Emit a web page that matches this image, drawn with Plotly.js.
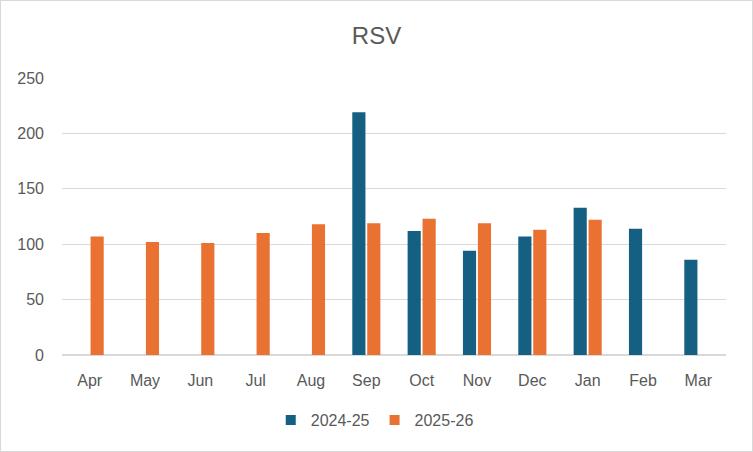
<!DOCTYPE html>
<html>
<head>
<meta charset="utf-8">
<script src="https://cdn.plot.ly/plotly-3.0.1.min.js"></script>
<style>
html,body{margin:0;padding:0;background:#fff;}
#wrap{position:relative;width:753px;height:452px;}
#chart{width:753px;height:452px;}
#frame{position:absolute;left:0;top:0;width:751px;height:450px;border:1px solid #d9d9d9;pointer-events:none;}
</style>
</head>
<body>
<div id="wrap"><div id="chart"></div><div id="frame"></div></div>
<script>
const months = ["Apr","May","Jun","Jul","Aug","Sep","Oct","Nov","Dec","Jan","Feb","Mar"];
const seriesNames = ["2024-25","2025-26"];
const series2425 = [null,null,null,null,null,219,112,94,107,133,114,86];
const series2526 = [107,102,101,110,118,119,123,119,113,122,null,null];
const colors = ["#156082","#E97132"];
const yTicks = [0,50,100,150,200,250];

const traces = [
  {type:"bar", name:seriesNames[0], x:months, y:series2425, marker:{color:colors[0]}, showlegend:false},
  {type:"bar", name:seriesNames[1], x:months, y:series2526, marker:{color:colors[1]}, showlegend:false},
  {type:"scatter", mode:"markers", name:seriesNames[0], x:[months[0]], y:[null], marker:{symbol:"square", size:10, color:colors[0]}, showlegend:true},
  {type:"scatter", mode:"markers", name:seriesNames[1], x:[months[0]], y:[null], marker:{symbol:"square", size:10, color:colors[1]}, showlegend:true}
];

const layout = {
  width:753, height:452,
  paper_bgcolor:"#ffffff", plot_bgcolor:"#ffffff",
  font:{family:"'Liberation Sans', Arial, sans-serif", color:"#595959", size:16},
  title:{text:"RSV", font:{size:24, color:"#595959"}, x:0.5, xanchor:"center", y:0.922, yanchor:"middle"},
  margin:{l:62, r:27, t:78, b:97},
  barmode:"group", bargap:0.46, bargroupgap:0.12,
  xaxis:{type:"category", categoryarray:months, range:[-0.5, months.length - 0.5], autorange:false, showgrid:false, showline:false, zeroline:false, ticks:"", ticklabelstandoff:14, tickfont:{size:16, color:"#595959"}},
  yaxis:{range:[0,250], autorange:false, tickvals:yTicks, showgrid:true, gridcolor:"#d9d9d9", gridwidth:1.3, zeroline:true, zerolinecolor:"#d9d9d9", zerolinewidth:1.3, showline:false, ticks:"", ticklabelstandoff:17, tickfont:{size:16, color:"#595959"}},
  showlegend:true,
  legend:{orientation:"h", x:0.471, xanchor:"center", y:-0.235, yanchor:"middle", font:{size:16, color:"#595959"}, itemwidth:30, traceorder:"normal", tracegroupgap:0}
};

Plotly.newPlot("chart", traces, layout, {displayModeBar:false, staticPlot:true});
</script>
</body>
</html>
